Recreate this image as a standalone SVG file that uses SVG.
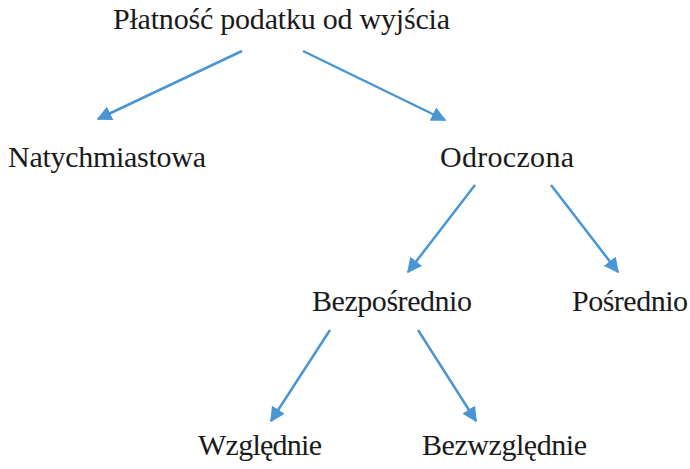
<svg xmlns="http://www.w3.org/2000/svg" width="690" height="469" viewBox="0 0 690 469">
<style>
text{font-family:"Liberation Serif","Times New Roman",serif;font-size:30px;fill:#1a1a1a}
.c line{stroke:#4a95d3;stroke-width:2.5;marker-end:url(#ah)}
</style>
<defs>
<marker id="ah" viewBox="0 0 10 10" refX="9" refY="5" markerWidth="6" markerHeight="6" orient="auto" markerUnits="strokeWidth">
<path d="M0,0 L10,5 L0,10 Z" fill="#4a95d3"/>
</marker>
</defs>
<rect width="690" height="469" fill="#fff"/>
<g id="n-root"><text x="113" y="29" textLength="337">Płatność podatku od wyjścia</text></g>
<g id="n-nat"><text x="8" y="167" textLength="198">Natychmiastowa</text></g>
<g id="n-odr"><text x="440" y="167" textLength="134">Odroczona</text></g>
<g id="n-bezp"><text x="312" y="311" textLength="160">Bezpośrednio</text></g>
<g id="n-posr"><text x="572" y="311" textLength="116">Pośrednio</text></g>
<g id="n-wzgl"><text x="198" y="455" textLength="124">Względnie</text></g>
<g id="n-bezw"><text x="422" y="455" textLength="165">Bezwzględnie</text></g>
<g class="c" id="connectors">
<line x1="242" y1="51" x2="98" y2="119"/>
<line x1="303" y1="51" x2="445" y2="120"/>
<line x1="475" y1="185" x2="408" y2="272"/>
<line x1="551" y1="185" x2="618" y2="272"/>
<line x1="330" y1="330" x2="271" y2="421"/>
<line x1="418" y1="330" x2="476" y2="421"/>
</g>
</svg>
